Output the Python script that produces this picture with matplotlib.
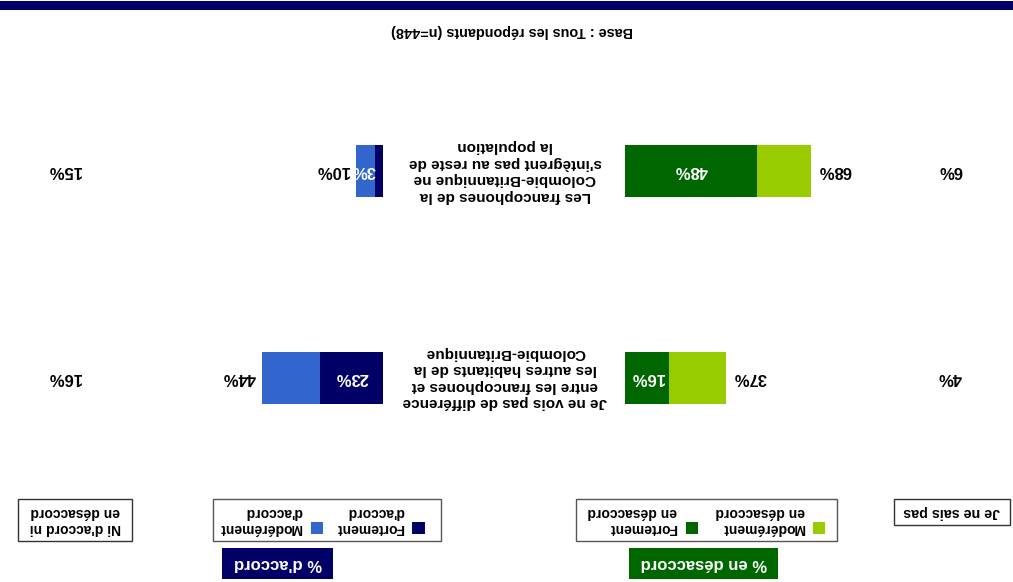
import matplotlib
matplotlib.use("Agg")
import matplotlib.pyplot as plt
from matplotlib.patches import Rectangle
from matplotlib import transforms

W, H = 1013, 582
FONT = ["Liberation Sans", "DejaVu Sans"]

# Survey data (base: all respondents, n=448)
statements = [
    "Je ne vois pas de différence\nentre les francophones et\nles autres habitants de la\nColombie-Britannique",
    "Les francophones de la\nColombie-Britannique ne\ns'intègrent pas au reste de\nla population",
]
strongly_agree = [23, 3]
somewhat_agree = [21, 7]
strongly_disagree = [16, 48]
somewhat_disagree = [21, 20]
neither = [16, 15]
dont_know = [4, 6]

base_note = "Base : Tous les répondants (n=448)"
head_disagree = "% en désaccord"
head_agree = "% d'accord"
leg_sd = "Fortement\nen désaccord"
leg_md = "Modérément\nen désaccord"
leg_sa = "Fortement\nd'accord"
leg_ma = "Modérément\nd'accord"
leg_neither = "Ni d'accord ni\nen désaccord"
leg_dk = "Je ne sais pas"

NAVY = "#000066"
BLUE = "#3366CC"
DGREEN = "#006600"
LGREEN = "#99CC00"
BORDER = "#555555"

fig = plt.figure(figsize=(W / 100, H / 100), dpi=100)


def fx(x):
    return x / W


def fy(y):
    return 1 - y / H


def label(x, y, s, size, color="black", ha="center", va="center", ma="center", ls=1.2):
    # the whole page is printed upside down
    fig.text(fx(x), fy(y), s, rotation=180, ha=ha, va=va, multialignment=ma,
             fontsize=size, fontweight="bold", color=color, family=FONT,
             linespacing=ls)


def box(x0, y0, x1, y1, face="white", edge=BORDER, lw=1.0):
    fig.add_artist(Rectangle((fx(x0), fy(y1)), (x1 - x0) / W, (y1 - y0) / H,
                             transform=fig.transFigure, facecolor=face,
                             edgecolor=edge, linewidth=lw))


# top rule and base note
box(0, 1, W, 10, face=NAVY, edge="none", lw=0)
label(512, 31, base_note, 10.4)

# bar panels
px_per_pct = 2.74
span = 100 * px_per_pct
row_top, row_bot = 171, 377.5
step = row_bot - row_top
ax_top = row_top - step / 2
ax_h = 2 * step
bar_h = 52 / step

ax_g = fig.add_axes([fx(625), fy(ax_top + ax_h), span / W, ax_h / H])
ax_b = fig.add_axes([fx(383 - span), fy(ax_top + ax_h), span / W, ax_h / H])
for ax in (ax_g, ax_b):
    ax.set_ylim(-0.5, 1.5)
    ax.axis("off")
ax_g.set_xlim(0, 100)
ax_b.set_xlim(100, 0)

ypos = list(range(len(statements)))
ax_g.barh(ypos, strongly_disagree, height=bar_h, color=DGREEN)
ax_g.barh(ypos, somewhat_disagree, left=strongly_disagree, height=bar_h, color=LGREEN)
ax_b.barh(ypos, strongly_agree, height=bar_h, color=NAVY)
ax_b.barh(ypos, somewhat_agree, left=strongly_agree, height=bar_h, color=BLUE)

txt_kw = dict(rotation=180, fontsize=12, fontweight="bold", family=FONT, va="center")
row_tr = transforms.blended_transform_factory(fig.transFigure, ax_g.transData)
for i in ypos:
    sd, md = strongly_disagree[i], somewhat_disagree[i]
    sa, ma = strongly_agree[i], somewhat_agree[i]
    ax_g.text(sd / 2, i, f"{sd}%", color="white", ha="center", **txt_kw)
    ax_g.annotate(f"{sd + md}%", xy=(sd + md, i), xytext=(7, 0),
                  textcoords="offset pixels", ha="left", **txt_kw)
    if sa >= 5:
        ax_b.text(sa / 2, i, f"{sa}%", color="white", ha="center", **txt_kw)
    else:
        ax_b.annotate(f"{sa}%", xy=(0, i), xytext=(-7, 0), color="white",
                      textcoords="offset pixels", ha="right", **txt_kw)
    ax_b.annotate(f"{sa + ma}%", xy=(sa + ma, i), xytext=(-7, 0),
                  textcoords="offset pixels", ha="right", **txt_kw)

    fig.text(fx(950), i, f"{dont_know[i]}%", transform=row_tr, ha="center", **txt_kw)
    fig.text(fx(64), i, f"{neither[i]}%", transform=row_tr, ha="center", **txt_kw)
    fig.text(fx(505), i, statements[i], transform=row_tr, ha="center",
             multialignment="center", linespacing=1.22,
             **{k: v for k, v in txt_kw.items() if k != "fontsize"}, fontsize=11)

# column headers and legends
box(894, 499, 1010, 525, edge="#333333")
label(952, 512, leg_dk, 10.3)

box(576, 499, 837, 541)
box(813, 522, 825, 534, face=LGREEN, edge="none", lw=0)
label(805, 520, leg_md, 10, ha="right", ma="left", ls=1.25)
box(686, 522, 698, 534, face=DGREEN, edge="none", lw=0)
label(677, 520, leg_sd, 10, ha="right", ma="left", ls=1.25)
box(629, 548, 778, 579, face=DGREEN, edge="none", lw=0)
label(703.5, 563.5, head_disagree, 12, color="white")

box(213, 499, 441, 541)
box(412, 522, 425, 534, face=NAVY, edge="none", lw=0)
label(404, 520, leg_sa, 10, ha="right", ma="left", ls=1.25)
box(311, 522, 323, 534, face=BLUE, edge="none", lw=0)
label(302, 520, leg_ma, 10, ha="right", ma="left", ls=1.25)
box(222, 548, 333, 579, face=NAVY, edge="none", lw=0)
label(277.5, 563.5, head_agree, 12, color="white")

box(18, 499, 132, 541, edge="#333333")
label(75, 520, leg_neither, 10, ls=1.25)

fig.savefig("out.png", dpi=100)
